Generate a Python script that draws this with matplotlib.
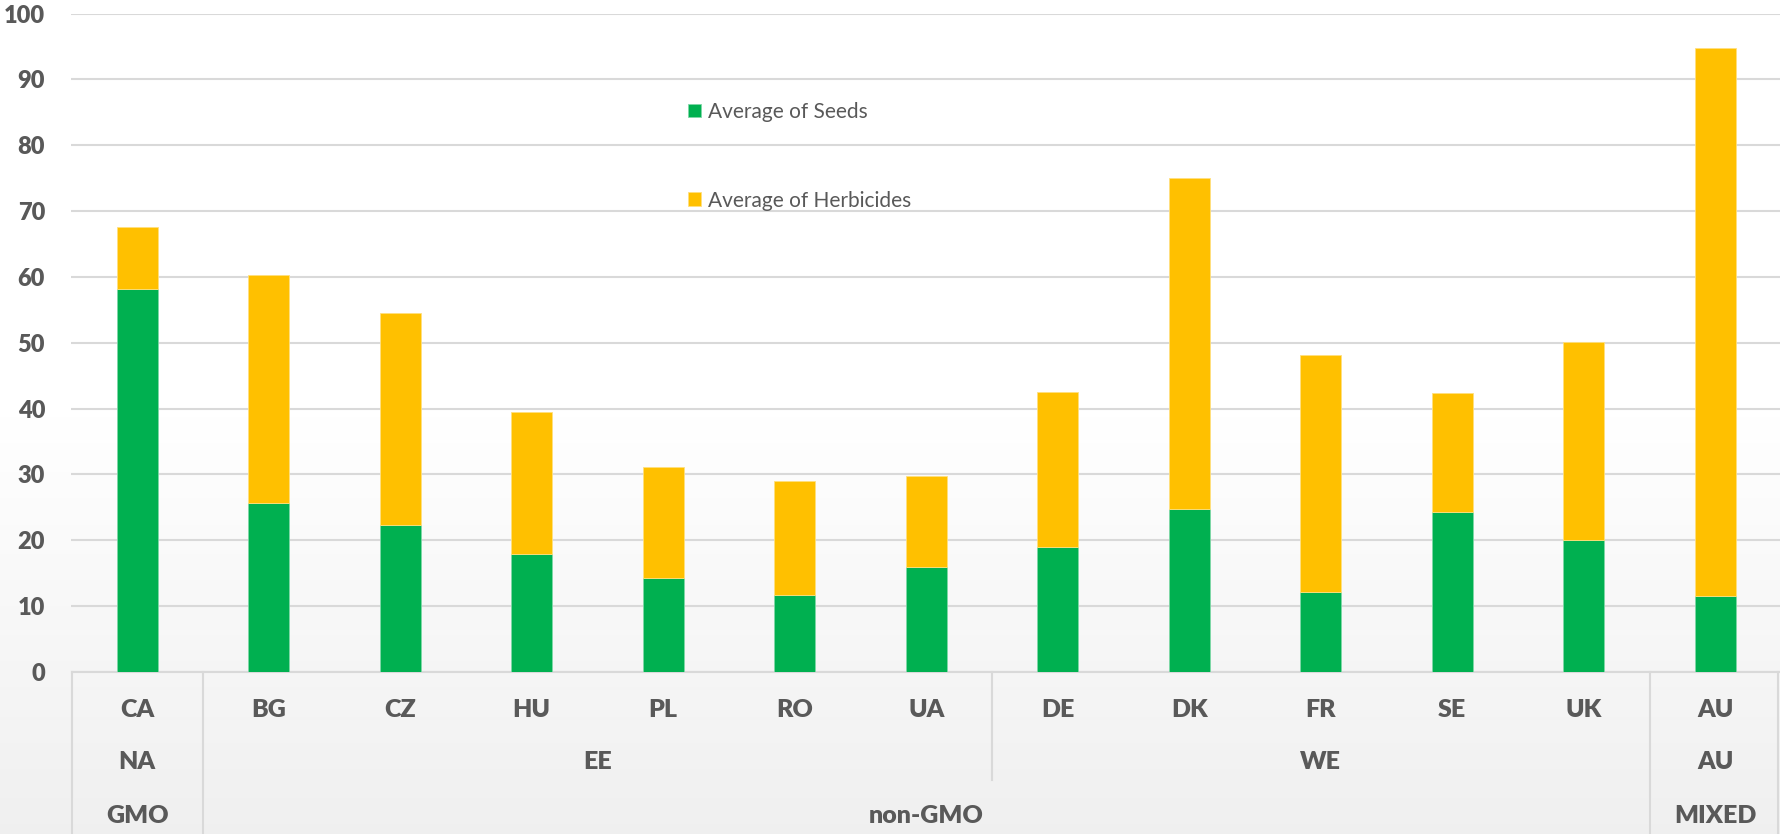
import numpy as np
import matplotlib
matplotlib.use("Agg")
import matplotlib.pyplot as plt
from matplotlib.transforms import blended_transform_factory

plt.rcParams['font.family'] = ['Lato', 'DejaVu Sans']

# данные
countries = ["CA", "BG", "CZ", "HU", "PL", "RO", "UA", "DE", "DK", "FR", "SE", "UK", "AU"]
seeds = [58.2, 25.7, 22.4, 17.9, 14.3, 11.7, 16.0, 19.0, 24.7, 12.2, 24.3, 20.0, 11.6]
totals = [67.6, 60.3, 54.5, 39.5, 31.2, 29.0, 29.8, 42.6, 75.0, 48.1, 42.3, 50.1, 94.8]
herbicides = [t - s for t, s in zip(totals, seeds)]

# группы: (подпись, первый индекс, последний индекс)
regions = [("NA", 0, 0), ("EE", 1, 6), ("WE", 7, 11), ("AU", 12, 12)]
gmo_types = [("GMO", 0, 0), ("non-GMO", 1, 11), ("MIXED", 12, 12)]

GREEN = "#00B050"
GOLD = "#FFC000"
TEXT = "#595959"
GRID = "#D9D9D9"
WEIGHT = 'heavy'

fig = plt.figure(figsize=(17.81, 8.34), dpi=100)

# фон с лёгким градиентом
bg = fig.add_axes([0, 0, 1, 1], zorder=-10)
grad = np.linspace(0, 1, 256).reshape(-1, 1)
grad = np.clip((grad - 0.5) / 0.5, 0, 1)
shade = 1.0 - 0.06 * grad
bg.imshow(np.dstack([shade, shade, shade]), aspect='auto', extent=[0, 1, 0, 1], origin='upper')
bg.axis('off')

ax = fig.add_axes([71.5 / 1781, 1 - 672 / 834, 1 - 71.5 / 1781, (672 - 13.6) / 834])
ax.patch.set_visible(False)

x = np.arange(len(countries))
w = 0.31
ax.bar(x, seeds, w, color=GREEN, edgecolor="#7fd8a7", linewidth=0.6, label="Average of Seeds", zorder=3)
ax.bar(x, herbicides, w, bottom=seeds, color=GOLD, edgecolor="#ffe07f", linewidth=0.6,
       label="Average of Herbicides", zorder=3)

ax.set_xlim(-0.5, len(countries) - 0.5)
ax.set_ylim(0, 100)
ax.set_yticks(range(0, 101, 10))
ax.yaxis.grid(True, color=GRID, linewidth=1.5)
ax.set_axisbelow(True)
for s in ax.spines.values():
    s.set_visible(False)
ax.tick_params(axis='y', length=0, pad=19, labelsize=17, labelcolor=TEXT)
for lab in ax.get_yticklabels():
    lab.set_fontweight(WEIGHT)
ax.set_xticks([])

# подписи категорий в три ряда
tr = blended_transform_factory(ax.transData, ax.transAxes)
rows_y = [-0.0577, -0.1367, -0.2187]
for i, c in enumerate(countries):
    ax.text(i, rows_y[0], c, transform=tr, ha='center', va='center', fontsize=18,
            fontweight=WEIGHT, color=TEXT, clip_on=False)
for name, a, b in regions:
    ax.text((a + b) / 2, rows_y[1], name, transform=tr, ha='center', va='center', fontsize=18,
            fontweight=WEIGHT, color=TEXT, clip_on=False)
for name, a, b in gmo_types:
    ax.text((a + b) / 2, rows_y[2], name, transform=tr, ha='center', va='center', fontsize=18,
            fontweight=WEIGHT, color=TEXT, clip_on=False)

# разделители групп
bottom = -162 / 658.4
for xs, y_end in [(-0.5, bottom), (0.5, bottom), (6.5, -108 / 658.4), (11.5, bottom), (12.48, bottom)]:
    ax.plot([xs, xs], [0, y_end], transform=tr, color=GRID, linewidth=1.5, clip_on=False)
ax.plot([-0.5, 12.5], [0, 0], transform=tr, color=GRID, linewidth=1.5, clip_on=False, zorder=2)

ax.legend(loc='upper left', bbox_to_anchor=(0.3606, 0.866), frameon=False, fontsize=15,
          labelcolor=TEXT, handlelength=0.62, handleheight=0.62, handletextpad=0.33,
          labelspacing=3.3, borderpad=0, borderaxespad=0)

fig.savefig("out.png", dpi=100)
